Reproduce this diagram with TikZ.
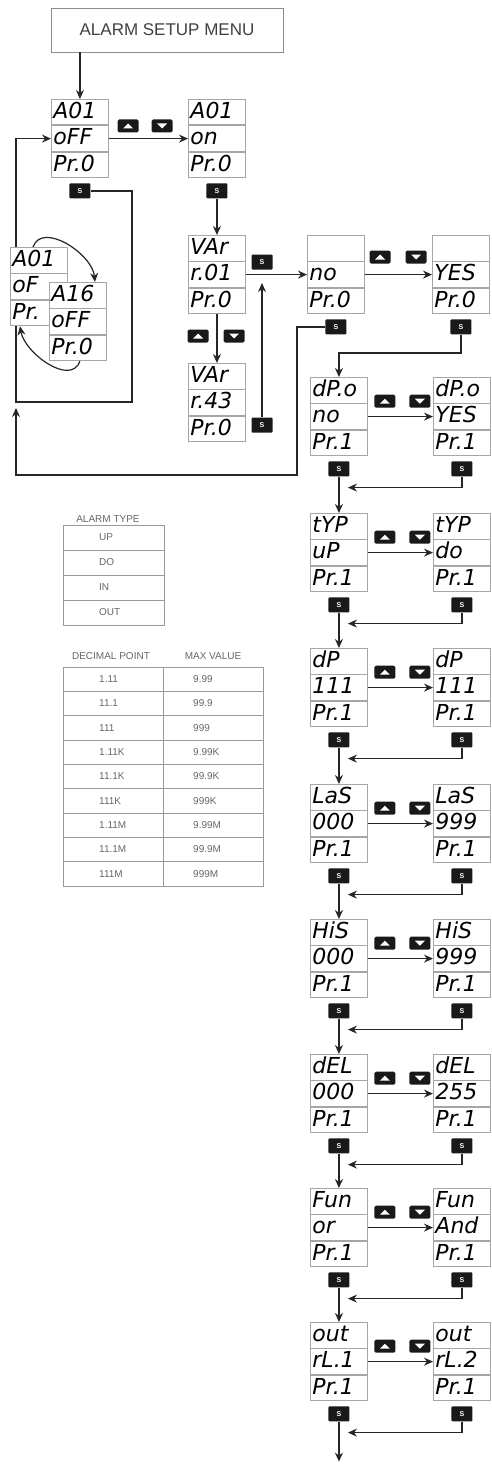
\documentclass[tikz,border=0pt]{standalone}
\usepackage{fontspec}
\setmainfont{Liberation Sans}
\newfontfamily\segfont{DejaVu Sans}
\usetikzlibrary{arrows.meta,positioning}

% one display = three stacked rows
\newcommand\lcdbox[5]{%
  \node[segrow, anchor=north west] (#1-a) at (#2) {#3};
  \node[segrow, below=0pt of #1-a] (#1-b) {#4};
  \node[segrow, below=0pt of #1-b] (#1-c) {#5};}

\begin{document}
\begin{tikzpicture}[x=1pt, y=-1pt,
  segrow/.style={draw=black!35, fill=white, line width=0.9pt, text width=53pt,
    inner xsep=2pt, inner ysep=2pt, text height=17pt, text depth=4.5pt, align=left,
    font=\segfont\itshape\fontsize{22}{22}\selectfont},
  upbtn/.style={fill=black!90, rounded corners=1.5pt, minimum width=21pt, minimum height=13pt,
    inner sep=0pt, path picture={\fill[white, sharp corners]
      ([xshift=-5pt,yshift=-2.5pt]path picture bounding box.center) -- ++(10pt,0pt) -- ++(-5pt,5pt) -- cycle;}},
  dnbtn/.style={fill=black!90, rounded corners=1.5pt, minimum width=21pt, minimum height=13pt,
    inner sep=0pt, path picture={\fill[white, sharp corners]
      ([xshift=-5pt,yshift=2.5pt]path picture bounding box.center) -- ++(10pt,0pt) -- ++(-5pt,-5pt) -- cycle;}},
  sbtn/.style={fill=black!90, text=white, rounded corners=1pt, minimum width=21pt, minimum height=15pt,
    inner sep=0pt, font=\bfseries\fontsize{7}{7}\selectfont},
  titlebox/.style={draw=black!45, line width=0.9pt, minimum width=232pt, minimum height=44pt,
    text=black!75, font=\fontsize{17}{17}\selectfont},
  tabtxt/.style={text=black!60, inner sep=0pt, font=\fontsize{10}{10}\selectfont},
  tabline/.style={draw=black!40, line width=0.7pt},
  arr/.style={-{Stealth[length=9pt,width=8pt]}, line width=1.2pt, draw=black!85}]
  \useasboundingbox (0,0) rectangle (491,1469);

  % start of the menu
  \node[titlebox] (menu) at (167,30) {ALARM SETUP MENU};
  \lcdbox{A}{51,99}{A01}{oFF}{Pr.0}
  \lcdbox{B}{188,99}{A01}{on}{Pr.0}
  \node[upbtn] (ua) at (128,126) {};
  \node[dnbtn] (da) at (162,126) {};
  \node[sbtn, below=5pt of A-c] (sa) {S};
  \node[sbtn, below=5pt of B-c] (sb) {S};
  \draw[arr] (A-a.north |- menu.south) -- (A-a.north);
  \draw[arr] (A-b.east) -- (B-b.west);
  \coordinate (lpa) at (132,402);
  \coordinate (lpb) at (16,402);
  \draw[arr] (sa.east) -| (lpa) -- (lpb) |- (A-b.west);

  % A01 ... A16
  \lcdbox{G}{10,247}{A01}{oF}{Pr.}
  \lcdbox{H}{49,282}{A16}{oFF}{Pr.0}
  \draw[arr] ([xshift=-6pt]G-a.north) to[out=70,in=95] ([xshift=17pt]H-a.north);
  \draw[arr] ([xshift=2pt]H-c.south) to[out=-110,in=-80] ([xshift=-19pt]G-c.south);

  % variable
  \lcdbox{V}{188,235}{VAr}{r.01}{Pr.0}
  \lcdbox{W}{188,363}{VAr}{r.43}{Pr.0}
  \draw[arr] (sb.south) -- (V-a.north);
  \node[upbtn] (uv) at (198,336) {};
  \node[dnbtn] (dv) at (234,336) {};
  \draw[arr] (V-c.south) -- (W-a.north);
  \node[sbtn] (sv) at (262,262) {S};
  \node[sbtn] (sw) at (262,425) {S};

  \lcdbox{N}{307,235}{}{no}{Pr.0}
  \lcdbox{Y}{432,235}{}{YES}{Pr.0}
  \draw[arr] (V-b.east) -- (N-b.west);
  \coordinate (vj) at (262,283);
  \draw[arr] (sw.north) -- (vj);
  \node[upbtn] (un) at (380,257) {};
  \node[dnbtn] (dn) at (416,257) {};
  \draw[arr] (N-b.east) -- (Y-b.west);
  \node[sbtn, below=5pt of N-c] (sn) {S};
  \node[sbtn, below=5pt of Y-c] (sy) {S};
  \coordinate (nj) at (297,475);
  \coordinate (nk) at (16,408);
  \draw[arr] (sn.west) -| (nj) -| (nk);

  % parameter steps
  \foreach \n/\ty/\la/\lb/\ra/\rb in {1/377/dP.o/no/dP.o/YES, 2/513/tYP/uP/tYP/do,
      3/648/dP/111/dP/111, 4/784/LaS/000/LaS/999, 5/919/HiS/000/HiS/999,
      6/1054/dEL/000/dEL/255, 7/1188/Fun/or/Fun/And, 8/1322/out/rL.1/out/rL.2}{
    \lcdbox{L\n}{310,\ty}{\la}{\lb}{Pr.1}
    \lcdbox{R\n}{433,\ty}{\ra}{\rb}{Pr.1}
    \node[upbtn] (U\n) at ([xshift=17pt,yshift=-11pt]L\n-a.east) {};
    \node[dnbtn] (D\n) at ([xshift=52pt,yshift=-11pt]L\n-a.east) {};
    \draw[arr] (L\n-b.east) -- (R\n-b.west);
    \node[sbtn, below=5pt of L\n-c] (SL\n) {S};
    \node[sbtn, below=5pt of R\n-c] (SR\n) {S};
    \coordinate (fb\n) at ([xshift=9pt,yshift=-11pt]SL\n.south);
    \draw[arr] (SR\n.south) |- (fb\n);
  }
  \foreach \n in {1,...,7}{
    \pgfmathtruncatemacro\m{\n+1}
    \draw[arr] (SL\n.south) -- (L\m-a.north);
  }
  \coordinate (yj) at (400,353);
  \draw[arr] (sy.south) |- (yj) -| (L1-a.north);
  \coordinate (fin) at ([yshift=-40pt]SL8.south);
  \draw[arr] (SL8.south) -- (fin);

  % alarm type table
  \node[tabtxt] (athead) at (108,519) {ALARM TYPE};
  \draw[tabline] (63,525) rectangle (164,625);
  \foreach \i in {1,2,3} \draw[tabline] (63,{525+25*\i}) -- (164,{525+25*\i});
  \foreach \t [count=\i] in {UP,DO,IN,OUT}
    \node[tabtxt, anchor=west] (at\i) at (99,{525+25*(\i-0.5)}) {\t};

  % decimal point table
  \node[tabtxt] (dphead) at (111,656) {DECIMAL POINT};
  \node[tabtxt] (mvhead) at (213,656) {MAX VALUE};
  \draw[tabline] (63,667) rectangle (263,886);
  \draw[tabline] (163,667) -- (163,886);
  \foreach \i in {1,...,8} \draw[tabline] (63,{667+24.33*\i}) -- (263,{667+24.33*\i});
  \foreach \a/\b [count=\i] in {1.11/9.99, 11.1/99.9, 111/999, 1.11K/9.99K, 11.1K/99.9K,
      111K/999K, 1.11M/9.99M, 11.1M/99.9M, 111M/999M}{
    \node[tabtxt, anchor=west] (dp\i) at (99,{667+24.33*(\i-0.5)}) {\a};
    \node[tabtxt, anchor=west] (mv\i) at (193,{667+24.33*(\i-0.5)}) {\b};
  }
\end{tikzpicture}
\end{document}
